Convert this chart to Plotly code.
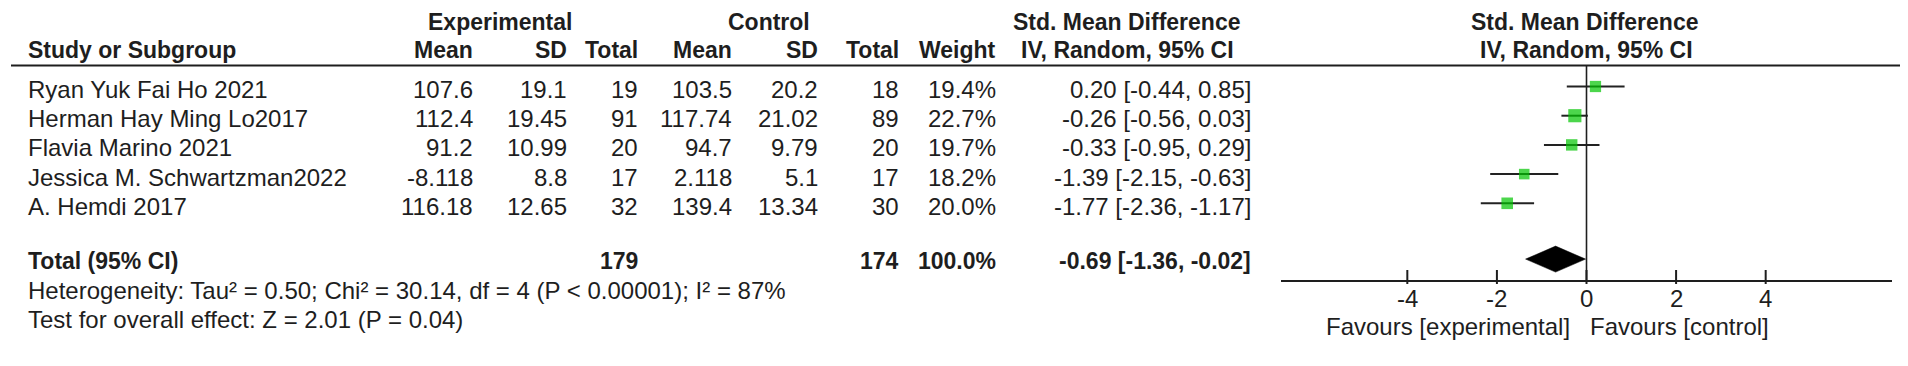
import plotly.graph_objects as go

# ---------------- data ----------------
studies = ["Ryan Yuk Fai Ho 2021", "Herman Hay Ming Lo2017", "Flavia Marino 2021",
           "Jessica M. Schwartzman2022", "A. Hemdi 2017"]
exp_mean = [107.6, 112.4, 91.2, -8.118, 116.18]
exp_sd = [19.1, 19.45, 10.99, 8.8, 12.65]
exp_n = [19, 91, 20, 17, 32]
ctl_mean = [103.5, 117.74, 94.7, 2.118, 139.4]
ctl_sd = [20.2, 21.02, 9.79, 5.1, 13.34]
ctl_n = [18, 89, 20, 17, 30]
weight = [19.4, 22.7, 19.7, 18.2, 20.0]
smd = [0.20, -0.26, -0.33, -1.39, -1.77]
ci_lo = [-0.44, -0.56, -0.95, -2.15, -2.36]
ci_hi = [0.85, 0.03, 0.29, -0.63, -1.17]

total_exp_n = 179
total_ctl_n = 174
total_weight = 100.0
total_smd = -0.69
total_lo = -1.36
total_hi = -0.02

heterogeneity = "Heterogeneity: Tau² = 0.50; Chi² = 30.14, df = 4 (P < 0.00001); I² = 87%"
overall = "Test for overall effect: Z = 2.01 (P = 0.04)"
tick_vals = [-4, -2, 0, 2, 4]
tick_text = ["-4", "-2", "0", "2", "4"]
favours_left = "Favours [experimental]"
favours_right = "Favours [control]"

# ---------------- layout constants (pixels) ----------------
W, H = 1908, 366
FONT = "Liberation Sans, Arial, sans-serif"
FS = 24        # regular text
FSB = 23       # bold text
TXT = "#1e1e1e"
GREEN = "#00c400"

y_head1 = 14
y_head2 = 42
header_line_y = 57.5
y_row0 = 81.5
step = 29.2
y_total = y_row0 + 4 * step + 54.8
y_het = y_total + step
y_test = y_het + step
axis_y = 273
y_ticklab = 290
y_favours = 318
sq_offset = -3
x_left, x_right = 1273, 1884
x_range = [-6.82, 6.82]

col = dict(study=19, em=466, esd=560, en=631, cm=725, csd=811, cn=892, wt=989, ci=1244)

fig = go.Figure()

# ---------------- forest marks ----------------
row_ys = [y_row0 + step * i for i in range(len(studies))]
fig.add_trace(go.Scatter(
    x=smd, y=[y + sq_offset for y in row_ys], mode="markers",
    marker=dict(symbol="square", color=GREEN, size=[w * 0.58 for w in weight], line=dict(width=0)),
    error_x=dict(type="data", symmetric=False,
                 array=[h - m for h, m in zip(ci_hi, smd)],
                 arrayminus=[m - l for m, l in zip(smd, ci_lo)],
                 color="#222222", thickness=2, width=0),
    showlegend=False, hoverinfo="skip"))

# diamond for the total
yd = y_total - 2
dh = 13
fig.add_trace(go.Scatter(
    x=[total_lo, total_smd, total_hi, total_smd, total_lo],
    y=[yd, yd - dh, yd, yd + dh, yd],
    mode="lines", fill="toself", fillcolor="black", line=dict(color="black", width=0.5),
    showlegend=False, hoverinfo="skip"))

# tick marks on the axis
fig.add_trace(go.Scatter(
    x=tick_vals, y=[axis_y - 4] * len(tick_vals), mode="markers",
    marker=dict(symbol="line-ns", size=10, line=dict(color="#1e1e1e", width=2)),
    showlegend=False, hoverinfo="skip"))

shapes = [
    dict(type="line", xref="paper", yref="y", x0=3 / W, x1=1905 / W,
         y0=header_line_y, y1=header_line_y, line=dict(color="#1e1e1e", width=1.8)),
    dict(type="line", xref="x", yref="y", x0=0, x1=0, y0=header_line_y, y1=axis_y,
         line=dict(color="#1e1e1e", width=1.6)),
]

ann = []
def text(x, y, s, anchor="right", bold=False, xref="paper"):
    if bold:
        s = "<b>" + s + "</b>"
    ann.append(dict(x=(x / W if xref == "paper" else x), y=y, xref=xref, yref="y", text=s,
                    showarrow=False, xanchor=anchor, yanchor="middle", align=anchor,
                    borderpad=0,
                    font=dict(family=FONT, size=FSB if bold else FS, color=TXT)))

# headers
text(492, y_head1, "Experimental", "center", True)
text(761, y_head1, "Control", "center", True)
text(1119, y_head1, "Std. Mean Difference", "center", True)
text(1577, y_head1, "Std. Mean Difference", "center", True)
text(col["study"], y_head2, "Study or Subgroup", "left", True)
for k, s in [("em", "Mean"), ("esd", "SD"), ("en", "Total"), ("cm", "Mean"),
             ("csd", "SD"), ("cn", "Total"), ("wt", "Weight")]:
    text(col[k], y_head2, s, "right", True)
text(1119, y_head2, "IV, Random, 95% CI", "center", True)
text(1578, y_head2, "IV, Random, 95% CI", "center", True)

# study rows
for i, y in enumerate(row_ys):
    text(col["study"], y, studies[i], "left")
    text(col["em"], y, str(exp_mean[i]))
    text(col["esd"], y, str(exp_sd[i]))
    text(col["en"], y, str(exp_n[i]))
    text(col["cm"], y, str(ctl_mean[i]))
    text(col["csd"], y, str(ctl_sd[i]))
    text(col["cn"], y, str(ctl_n[i]))
    text(col["wt"], y, f"{weight[i]:.1f}%")
    text(col["ci"], y, f"{smd[i]:.2f} [{ci_lo[i]:.2f}, {ci_hi[i]:.2f}]")

# total row
text(col["study"], y_total, "Total (95% CI)", "left", True)
text(col["en"], y_total, str(total_exp_n), "right", True)
text(col["cn"], y_total, str(total_ctl_n), "right", True)
text(col["wt"], y_total, f"{total_weight:.1f}%", "right", True)
text(col["ci"], y_total, f"{total_smd:.2f} [{total_lo:.2f}, {total_hi:.2f}]", "right", True)

text(col["study"], y_het, heterogeneity, "left")
text(col["study"], y_test, overall, "left")

# axis tick labels (placed on the data axis)
for v, t in zip(tick_vals, tick_text):
    text(v, y_ticklab, t, "center", xref="x")

# favours labels
text(1563, y_favours, favours_left, "right")
text(1581, y_favours, favours_right, "left")

fig.update_layout(
    width=W, height=H, margin=dict(l=0, r=0, t=0, b=0),
    paper_bgcolor="white", plot_bgcolor="white",
    shapes=shapes, annotations=ann, showlegend=False,
    xaxis=dict(domain=[x_left / W, x_right / W], range=x_range, anchor="free",
               position=1 - axis_y / H, showline=True, linecolor="#1e1e1e", linewidth=2,
               showgrid=False, zeroline=False, ticks="", showticklabels=False,
               tickvals=tick_vals),
    yaxis=dict(domain=[0, 1], range=[H, 0], visible=False, showgrid=False, zeroline=False),
)

fig.write_html("out.html")
